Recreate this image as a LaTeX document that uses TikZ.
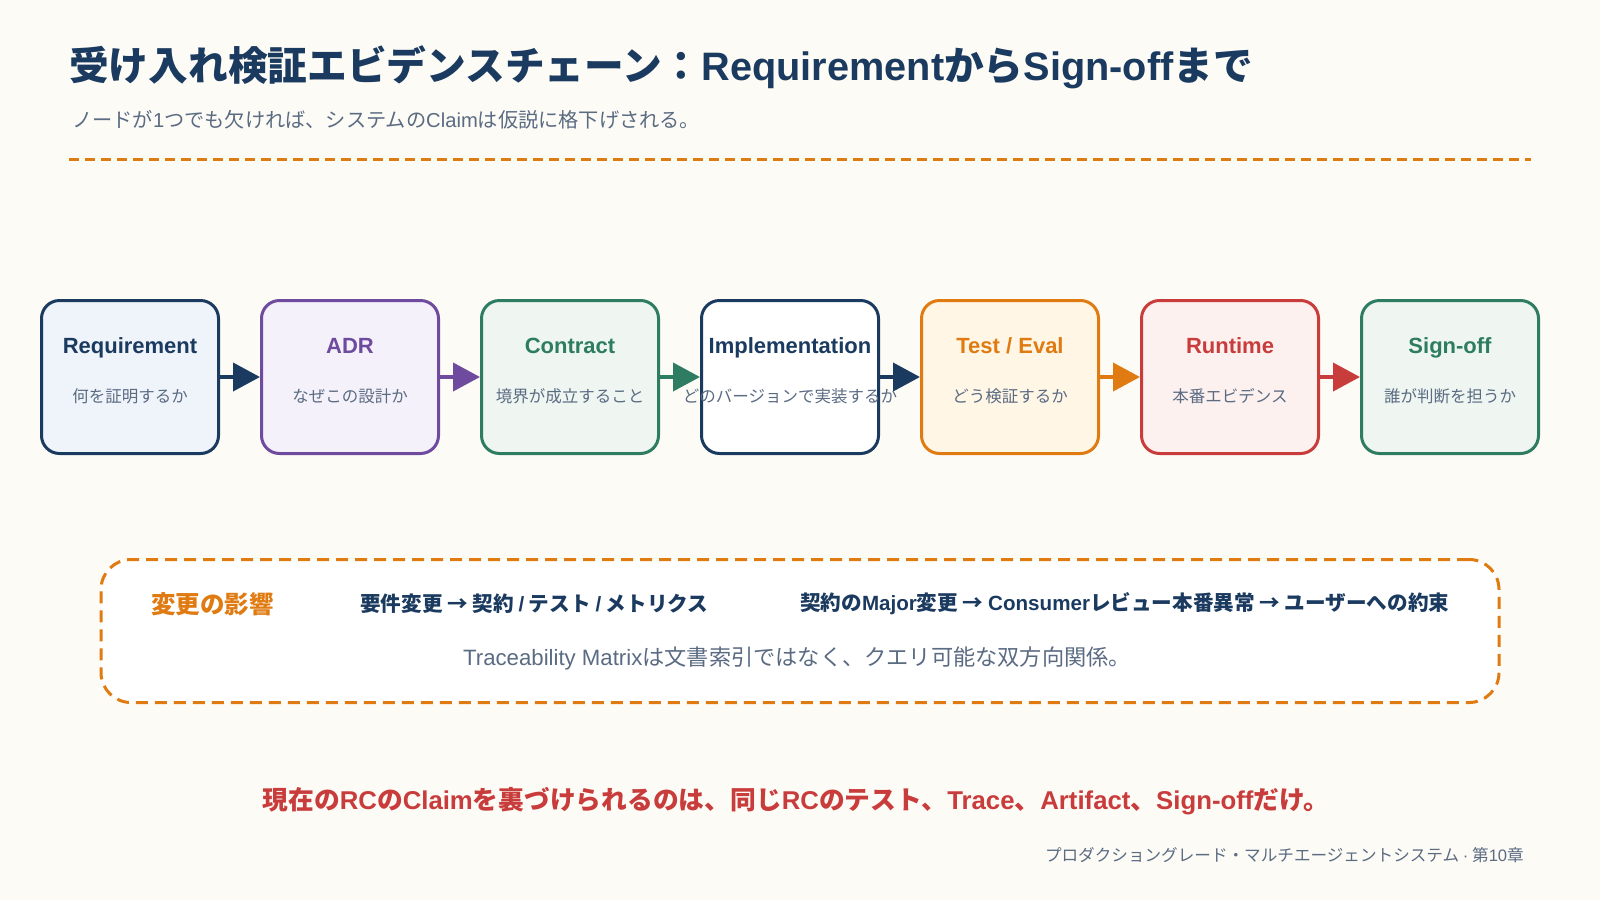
\documentclass[tikz,border=0pt]{standalone}
\usepackage{fontspec}
\setmainfont{Noto Sans CJK JP}
\newfontfamily\lat{Liberation Sans}
\usetikzlibrary{positioning,arrows.meta}

\definecolor{fondo}{HTML}{FDFBF6}
\definecolor{azul}{HTML}{1B3A5F}
\definecolor{morado}{HTML}{6E4B9E}
\definecolor{verde}{HTML}{2E7D62}
\definecolor{naranja}{HTML}{E07B12}
\definecolor{rojo}{HTML}{C93C3C}
\definecolor{gris}{HTML}{5A6B82}
\definecolor{fazul}{HTML}{EFF4FA}
\definecolor{fmorado}{HTML}{F5F1FA}
\definecolor{fverde}{HTML}{EFF6F2}
\definecolor{fnaranja}{HTML}{FFF6E6}
\definecolor{frojo}{HTML}{FDF1F0}

\begin{document}
\begin{tikzpicture}[
        x=1pt, y=-1pt,
        node distance=220pt,
        caja/.style={rectangle, rounded corners=18pt, line width=3pt, minimum width=177pt, minimum height=153pt},
        nombre/.style={inner sep=0pt, anchor=base, font={\lat\bfseries\fontsize{22}{26}\selectfont}},
        nota/.style={inner sep=0pt, font=\fontsize{16.5}{20}\selectfont, text=gris},
        flecha/.style={line width=4pt, -{Triangle[length=27pt,width=28pt]}},
        impacto/.style={inner sep=0pt, anchor=west, font={\bfseries\fontsize{20.6}{24}\selectfont}, text=azul}
    ]
        % Fondo
        \fill[fondo] (0,0) rectangle (1600,900);
        \useasboundingbox (0,0) rectangle (1600,900);

        % Cabecera
        \node[inner sep=0pt, anchor=west, text=azul, font={\bfseries\fontsize{39.7}{46}\selectfont}] (titulo) at (69,67)
            {受け入れ検証エビデンスチェーン：{\lat Requirement}から{\lat Sign-off}まで};
        \node[inner sep=0pt, anchor=west, text=gris, font=\fontsize{20.2}{24}\selectfont] (subtitulo) at (72,120)
            {ノードが{\lat 1}つでも欠ければ、システムの{\lat Claim}は仮説に格下げされる。};
        \coordinate (lin-a) at (69,159);
        \coordinate (lin-b) at (1531,159);
        \draw[naranja, line width=3pt, dash pattern=on 10pt off 6pt] (lin-a) -- (lin-b);

        % Cajas de la cadena
        \node[caja, draw=azul, fill=fazul] (req) at (130,377) {};
        \node[caja, draw=morado, fill=fmorado] (adr) [right of=req] {};
        \node[caja, draw=verde, fill=fverde] (con) [right of=adr] {};
        \node[caja, draw=azul, fill=white] (imp) [right of=con] {};
        \node[caja, draw=naranja, fill=fnaranja] (tst) [right of=imp] {};
        \node[caja, draw=rojo, fill=frojo] (run) [right of=tst] {};
        \node[caja, draw=verde, fill=fverde] (sig) [right of=run] {};

        % Flechas
        \draw[flecha, azul] (req) -- (adr);
        \draw[flecha, morado] (adr) -- (con);
        \draw[flecha, verde] (con) -- (imp);
        \draw[flecha, azul] (imp) -- (tst);
        \draw[flecha, naranja] (tst) -- (run);
        \draw[flecha, rojo] (run) -- (sig);

        % Textos de las cajas
        \node[nombre, text=azul] (req-n) at ([yshift=24pt]req.center) {Requirement};
        \node[nota] (req-s) at ([yshift=-19pt]req.center) {何を証明するか};
        \node[nombre, text=morado] (adr-n) at ([yshift=24pt]adr.center) {ADR};
        \node[nota] (adr-s) at ([yshift=-19pt]adr.center) {なぜこの設計か};
        \node[nombre, text=verde] (con-n) at ([yshift=24pt]con.center) {Contract};
        \node[nota] (con-s) at ([yshift=-19pt]con.center) {境界が成立すること};
        \node[nombre, text=azul] (imp-n) at ([yshift=24pt]imp.center) {Implementation};
        \node[nota] (imp-s) at ([yshift=-19pt]imp.center) {どのバージョンで実装するか};
        \node[nombre, text=naranja] (tst-n) at ([yshift=24pt]tst.center) {Test / Eval};
        \node[nota] (tst-s) at ([yshift=-19pt]tst.center) {どう検証するか};
        \node[nombre, text=rojo] (run-n) at ([yshift=24pt]run.center) {Runtime};
        \node[nota] (run-s) at ([yshift=-19pt]run.center) {本番エビデンス};
        \node[nombre, text=verde] (sig-n) at ([yshift=24pt]sig.center) {Sign-off};
        \node[nota] (sig-s) at ([yshift=-19pt]sig.center) {誰が判断を担うか};

        % Recuadro de impacto
        \node[draw=naranja, fill=white, line width=3pt, dash pattern=on 12pt off 7pt, rounded corners=30pt,
              minimum width=1398pt, minimum height=143pt] (cambio) at (800,631) {};
        \node[inner sep=0pt, anchor=west, text=naranja, font={\bfseries\fontsize{24.5}{28}\selectfont}] (cambio-t) at (151,604) {変更の影響};
        \node[impacto] (cambio-a) at (360,604) {要件変更 → 契約 {\lat /} テスト {\lat /} メトリクス};
        \node[impacto] (cambio-b) at (800,604) {契約の{\lat Major}変更 → {\lat Consumer}レビュー本番異常 → ユーザーへの約束};
        \node[inner sep=0pt, text=gris, font=\fontsize{22.2}{26}\selectfont] (cambio-c) at (797,658)
            {{\lat Traceability Matrix}は文書索引ではなく、クエリ可能な双方向関係。};

        % Conclusion y pie
        \node[inner sep=0pt, text=rojo, font={\bfseries\fontsize{25.75}{30}\selectfont}] (cierre) at (796,801)
            {現在の{\lat RC}の{\lat Claim}を裏づけられるのは、同じ{\lat RC}のテスト、{\lat Trace}、{\lat Artifact}、{\lat Sign-off}だけ。};
        \node[inner sep=0pt, anchor=east, text=gris, font=\fontsize{16.6}{20}\selectfont] (pie) at (1524,855)
            {プロダクショングレード・マルチエージェントシステム {\lat ·} 第{\lat 10}章};
    \end{tikzpicture}
\end{document}
